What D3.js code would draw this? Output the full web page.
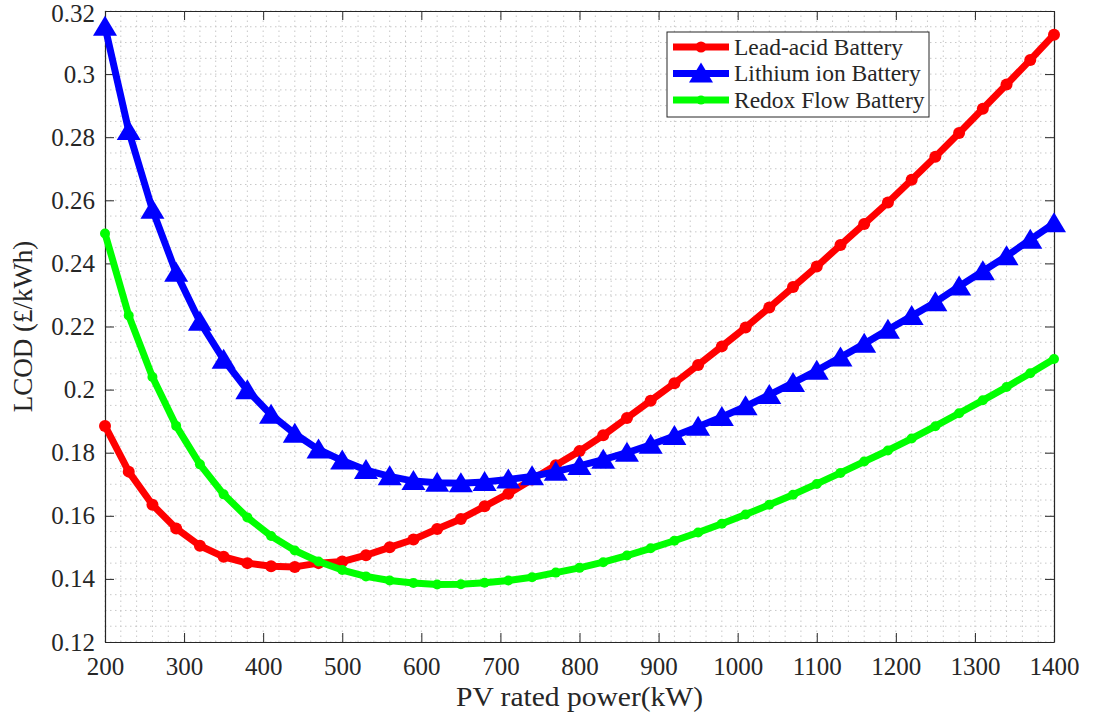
<!DOCTYPE html>
<html>
<head>
<meta charset="utf-8">
<script src="https://cdn.jsdelivr.net/npm/d3@7"></script>
<style>
  body { margin: 0; background: #fff; }
  svg text { font-family: "Liberation Serif", "Times New Roman", serif; fill: #262626; }
</style>
</head>
<body>
<svg id="chart" width="1094" height="720"></svg>
<script>
const pvPower = d3.range(200, 1401, 30);

const leadAcid = [0.1885, 0.174, 0.1635, 0.156, 0.1505, 0.147, 0.145, 0.144, 0.1438, 0.145,
  0.1455, 0.1475, 0.150, 0.1525, 0.1558, 0.159, 0.163, 0.167, 0.1715, 0.176,
  0.1805, 0.1855, 0.191, 0.1965, 0.202, 0.2078, 0.2137, 0.2197, 0.226, 0.2325,
  0.239, 0.2458, 0.2525, 0.2593, 0.2665, 0.2738, 0.2813, 0.289, 0.2967, 0.3045, 0.3125];

const lithium = [0.315, 0.282, 0.257, 0.237, 0.2215, 0.2095, 0.1998, 0.192, 0.186, 0.181,
  0.1775, 0.1745, 0.1725, 0.171, 0.1705, 0.1703, 0.1707, 0.1715, 0.1725, 0.174,
  0.1758, 0.1778, 0.18, 0.1825, 0.1853, 0.1882, 0.1913, 0.1947, 0.1983, 0.2021,
  0.206, 0.2102, 0.2145, 0.219, 0.2233, 0.2277, 0.2327, 0.2375, 0.2423, 0.2475, 0.2527];

const redox = [0.2495, 0.2235, 0.204, 0.1885, 0.1763, 0.1668, 0.1595, 0.1536, 0.149, 0.1455,
  0.1428, 0.1408, 0.1395, 0.1387, 0.1382, 0.1383, 0.1388, 0.1395, 0.1405, 0.142,
  0.1435, 0.1453, 0.1474, 0.1497, 0.1521, 0.1547, 0.1575, 0.1604, 0.1635, 0.1667,
  0.1701, 0.1736, 0.1772, 0.1807, 0.1845, 0.1884, 0.1925, 0.1966, 0.2008, 0.2052, 0.2097];

const xTicks = d3.range(200, 1401, 100);
const yTicks = [0.12, 0.14, 0.16, 0.18, 0.2, 0.22, 0.24, 0.26, 0.28, 0.3, 0.32];

const series = [
  { name: "Lead-acid Battery", values: leadAcid, color: "#ff0000", marker: "circle", size: 6 },
  { name: "Lithium ion Battery", values: lithium, color: "#0000ff", marker: "triangle" },
  { name: "Redox Flow Battery", values: redox, color: "#00ff00", marker: "circle", size: 5 }
];

const svg = d3.select("#chart");
const margin = { top: 11, right: 40, bottom: 78, left: 105 };
const width = 1094, height = 720;

const x = d3.scaleLinear().domain([200, 1400]).range([margin.left, width - margin.right]);
const y = d3.scaleLinear().domain([0.12, 0.32]).range([height - margin.bottom, margin.top]);

// grid (major + minor, dotted)
const grid = svg.append("g");
grid.selectAll(".vx").data(d3.range(200, 1401, 20)).enter().append("line")
  .attr("x1", d => x(d)).attr("x2", d => x(d))
  .attr("y1", y(0.12)).attr("y2", y(0.32))
  .attr("stroke", "#c8c8c8").attr("stroke-width", 1).attr("stroke-dasharray", "1.5,3.5");
grid.selectAll(".hy").data(d3.range(0, 41).map(i => 0.12 + i * 0.005)).enter().append("line")
  .attr("y1", d => y(d)).attr("y2", d => y(d))
  .attr("x1", x(200)).attr("x2", x(1400))
  .attr("stroke", "#c8c8c8").attr("stroke-width", 1).attr("stroke-dasharray", "1.5,3.5");

// axes (box with inward ticks)
const xAxis = svg.append("g")
  .attr("transform", `translate(0,${y(0.12)})`)
  .call(d3.axisBottom(x).tickValues(xTicks).tickFormat(d3.format("d")).tickSizeInner(-9).tickSizeOuter(0).tickPadding(13));
const yAxis = svg.append("g")
  .attr("transform", `translate(${x(200)},0)`)
  .call(d3.axisLeft(y).tickValues(yTicks).tickFormat(d => +d.toFixed(2) + "").tickSizeInner(-9).tickSizeOuter(0).tickPadding(10));
svg.append("g")
  .attr("transform", `translate(0,${y(0.32)})`)
  .call(d3.axisTop(x).tickValues(xTicks).tickFormat("").tickSizeInner(-9).tickSizeOuter(0));
svg.append("g")
  .attr("transform", `translate(${x(1400)},0)`)
  .call(d3.axisRight(y).tickValues(yTicks).tickFormat("").tickSizeInner(-9).tickSizeOuter(0));

svg.selectAll(".domain").attr("stroke", "#262626").attr("stroke-width", 1.2);
svg.selectAll(".tick line").attr("stroke", "#262626");
xAxis.selectAll("text").attr("font-size", 25).attr("dy", "0.8em");
yAxis.selectAll("text").attr("font-size", 25)
  .attr("dy", d => d === 0.32 ? "0.42em" : "0.32em"); // keep top label inside the page

// MATLAB-like "^" marker: wider than tall
const triPath = "M0,-11L12,9L-12,9Z";

const line = d3.line().x((d, i) => x(pvPower[i])).y(d => y(d));

series.forEach(s => {
  svg.append("path").datum(s.values)
    .attr("d", line).attr("fill", "none")
    .attr("stroke", s.color).attr("stroke-width", 7).attr("stroke-linejoin", "round");
  const g = svg.append("g");
  if (s.marker === "circle") {
    g.selectAll("circle").data(s.values).enter().append("circle")
      .attr("cx", (d, i) => x(pvPower[i])).attr("cy", d => y(d))
      .attr("r", s.size).attr("fill", s.color);
  } else {
    g.selectAll("path").data(s.values).enter().append("path")
      .attr("d", triPath)
      .attr("transform", (d, i) => `translate(${x(pvPower[i])},${y(d)})`)
      .attr("fill", s.color);
  }
});

// axis labels
svg.append("text").attr("x", x(800)).attr("y", 706).attr("text-anchor", "middle")
  .attr("font-size", 27).attr("textLength", 247).attr("lengthAdjust", "spacingAndGlyphs")
  .text("PV rated power(kW)");
svg.append("text").attr("transform", `translate(32,${y(0.22)}) rotate(-90)`)
  .attr("text-anchor", "middle").attr("font-size", 27).text("LCOD (£/kWh)");

// legend
const legend = svg.append("g").attr("transform", "translate(667,32)");
legend.append("rect").attr("width", 262).attr("height", 85)
  .attr("fill", "#fff").attr("stroke", "#262626").attr("stroke-width", 1);
series.forEach((s, i) => {
  const ly = 15 + i * 26.5;
  legend.append("line").attr("x1", 6).attr("x2", 62).attr("y1", ly).attr("y2", ly)
    .attr("stroke", s.color).attr("stroke-width", 7);
  if (s.marker === "circle") {
    legend.append("circle").attr("cx", 34).attr("cy", ly).attr("r", s.size - 0.5).attr("fill", s.color);
  } else {
    legend.append("path").attr("d", triPath)
      .attr("transform", `translate(34,${ly})`).attr("fill", s.color);
  }
  legend.append("text").attr("x", 67).attr("y", ly).attr("dy", "0.33em")
    .attr("font-size", 23.5).attr("fill", "#000").text(s.name);
});
</script>
</body>
</html>
